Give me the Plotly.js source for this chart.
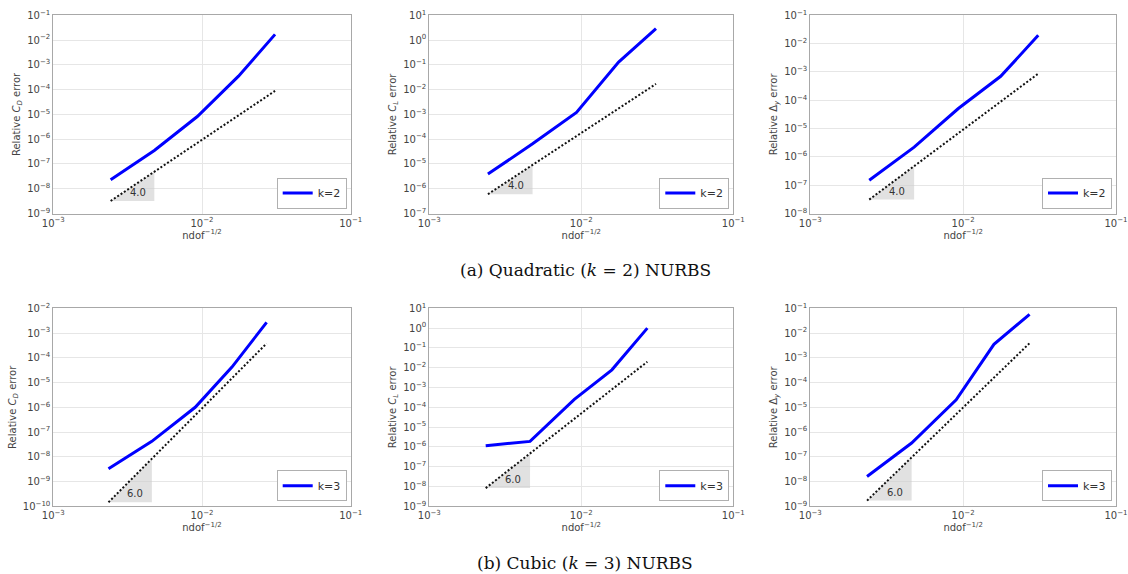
<!DOCTYPE html>
<html>
<head>
<meta charset="utf-8">
<script src="https://cdn.plot.ly/plotly-3.0.1.min.js"></script>
<style>
  html, body { margin: 0; padding: 0; background: #fff; }
  #chart { width: 1128px; height: 574px; }
</style>
</head>
<body>
<div id="chart"></div>
<script>
// Mesh size measure ndof^(-1/2) for each refinement level
const hQuad  = [0.00243, 0.00478, 0.0093, 0.0176, 0.031];
const hCubic = [0.00235, 0.0046, 0.009, 0.0159, 0.0272];

// Relative errors, quadratic NURBS (k=2)
const errCdQuad = [2.3e-8, 3.5e-7, 8.2e-6, 3.5e-4, 1.7e-2];
const errClQuad = [3.9e-6, 6.5e-5, 1.2e-3, 0.13, 2.9];
const errDyQuad = [1.5e-7, 2.2e-6, 5.1e-5, 7.0e-4, 1.96e-2];

// Relative errors, cubic NURBS (k=3)
const errCdCubic = [3.3e-9, 4.2e-8, 1.0e-6, 4.2e-5, 2.7e-3];
const errClCubic = [1.15e-6, 1.9e-6, 2.5e-4, 7.8e-3, 1.0];
const errDyCubic = [1.6e-8, 3.6e-7, 2.0e-5, 3.5e-3, 5.7e-2];

// Reference rate lines: values at the coarsest-h and finest-h ends
const refCdQuad  = [3.2e-9, 8.9e-5];
const refClQuad  = [6.0e-7, 1.7e-2];
const refDyQuad  = [3.1e-8, 8.7e-4];
const refCdCubic = [1.45e-10, 3.8e-4];
const refClCubic = [8.3e-9, 2.0e-2];
const refDyCubic = [1.7e-9, 3.9e-3];

const rateLabels   = ['4.0', '6.0'];
const legendLabels = ['k=2', 'k=3'];
const yLabels = [
  'Relative <i>C</i><sub><i>D</i></sub> error',
  'Relative <i>C</i><sub><i>L</i></sub> error',
  'Relative \u0394<sub><i>y</i></sub> error'
];
const xLabel = 'ndof<sup>\u22121/2</sup>';
const captions = [
  '(a) Quadratic (<i>k</i> = 2) NURBS',
  '(b) Cubic (<i>k</i> = 3) NURBS'
];
// y-axis decade ranges [low, high] per panel
const yDecades = [[-9, -1], [-7, 1], [-8, -1], [-10, -2], [-9, 1], [-9, -1]];
const xDecades = [-3, -1];

// ---- layout geometry (pixels) ----
const W = 1128, H = 574;
const colBox = [[53.3, 350.7], [429.3, 733.3], [810.3, 1116]];
const rowBox = [[15.3, 213.5], [308.3, 506.3]];

const panels = [
  { h: hQuad,  err: errCdQuad,  ref: refCdQuad,  row: 0, col: 0 },
  { h: hQuad,  err: errClQuad,  ref: refClQuad,  row: 0, col: 1 },
  { h: hQuad,  err: errDyQuad,  ref: refDyQuad,  row: 0, col: 2 },
  { h: hCubic, err: errCdCubic, ref: refCdCubic, row: 1, col: 0 },
  { h: hCubic, err: errClCubic, ref: refClCubic, row: 1, col: 1 },
  { h: hCubic, err: errDyCubic, ref: refDyCubic, row: 1, col: 2 }
];

const sup = n => '10<sup>' + (n < 0 ? '\u2212' + (-n) : n) + '</sup>';
const decadeTicks = (lo, hi) => {
  const v = [], t = [];
  for (let e = lo; e <= hi; e++) { v.push(Math.pow(10, e)); t.push(sup(e)); }
  return { v, t };
};

const tickFont  = { family: 'DejaVu Sans, sans-serif', size: 10, color: '#444444' };
const labelFont = { family: 'DejaVu Sans, sans-serif', size: 10, color: '#444444' };

const traces = [];
const layout = {
  width: W, height: H,
  margin: { l: 0, r: 0, t: 0, b: 0 },
  paper_bgcolor: '#ffffff',
  plot_bgcolor: '#ffffff',
  showlegend: true,
  annotations: [],
  font: { family: 'DejaVu Sans, sans-serif', size: 10 }
};

panels.forEach((p, i) => {
  const n = i + 1;
  const xa = 'xaxis' + (n === 1 ? '' : n);
  const ya = 'yaxis' + (n === 1 ? '' : n);
  const xr = 'x' + (n === 1 ? '' : n);
  const yr = 'y' + (n === 1 ? '' : n);
  const leg = 'legend' + (n === 1 ? '' : n);
  const [x0, x1] = colBox[p.col];
  const [y0, y1] = rowBox[p.row];
  const yd = yDecades[i];
  const xt = decadeTicks(xDecades[0], xDecades[1]);
  const yt = decadeTicks(yd[0], yd[1]);

  layout[xa] = {
    type: 'log', domain: [x0 / W, x1 / W], anchor: yr,
    range: xDecades,
    tickvals: xt.v, ticktext: xt.t, ticks: '',
    tickfont: tickFont,
    showgrid: true, gridcolor: '#e6e6e6', gridwidth: 1,
    showline: true, linecolor: '#a8a8a8', linewidth: 1, mirror: true,
    zeroline: false, automargin: false,
    title: { text: xLabel, font: labelFont, standoff: 2 }
  };
  layout[ya] = {
    type: 'log', domain: [1 - y1 / H, 1 - y0 / H], anchor: xr,
    range: yd,
    tickvals: yt.v, ticktext: yt.t, ticks: '',
    tickfont: tickFont,
    showgrid: true, gridcolor: '#e6e6e6', gridwidth: 1,
    showline: true, linecolor: '#a8a8a8', linewidth: 1, mirror: true,
    zeroline: false, automargin: false,
    title: { text: yLabels[p.col], font: labelFont, standoff: 4 }
  };

  // slope triangle under the reference line, between the two coarsest h
  const hA = p.h[0], hB = p.h[1], hEnd = p.h[p.h.length - 1];
  const rate = Math.log10(p.ref[1] / p.ref[0]) / Math.log10(hEnd / hA);
  const rB = p.ref[0] * Math.pow(hB / hA, rate);
  traces.push({
    x: [hA, hB, hB, hA], y: [p.ref[0], p.ref[0], rB, p.ref[0]],
    xaxis: xr, yaxis: yr, mode: 'lines', fill: 'toself',
    fillcolor: 'rgba(205,205,205,0.6)', line: { width: 0 },
    hoverinfo: 'skip', showlegend: false
  });
  // reference convergence-rate line
  traces.push({
    x: [hA, hEnd], y: p.ref, xaxis: xr, yaxis: yr, mode: 'lines',
    line: { color: '#111111', width: 2, dash: '2px,2px' },
    showlegend: false, hoverinfo: 'skip'
  });
  // computed error curve
  traces.push({
    x: p.h, y: p.err, xaxis: xr, yaxis: yr, mode: 'lines',
    name: legendLabels[p.row], legend: leg,
    line: { color: '#0000ff', width: 3 }
  });

  layout.annotations.push({
    xref: xr, yref: yr,
    x: Math.log10(hA) + 0.62 * Math.log10(hB / hA),
    y: Math.log10(p.ref[0]),
    text: rateLabels[p.row], showarrow: false,
    xanchor: 'center', yanchor: 'bottom', yshift: 1,
    font: { family: 'DejaVu Sans, sans-serif', size: 10, color: '#333' }
  });

  layout[leg] = {
    x: (x1 - 4) / W, y: 1 - (y1 - 5) / H,
    xanchor: 'right', yanchor: 'bottom',
    bgcolor: '#ffffff', bordercolor: '#b0b0b0', borderwidth: 1,
    font: { family: 'DejaVu Sans, sans-serif', size: 11, color: '#333' },
    itemwidth: 30
  };
});

captions.forEach((c, i) => {
  layout.annotations.push({
    xref: 'paper', yref: 'paper', x: 585 / W, y: 1 - [270, 563][i] / H,
    text: c, showarrow: false, xanchor: 'center', yanchor: 'middle',
    font: { family: 'DejaVu Serif, serif', size: 17, color: '#111' }
  });
});

Plotly.newPlot('chart', traces, layout, { staticPlot: true, displayModeBar: false });
</script>
</body>
</html>
